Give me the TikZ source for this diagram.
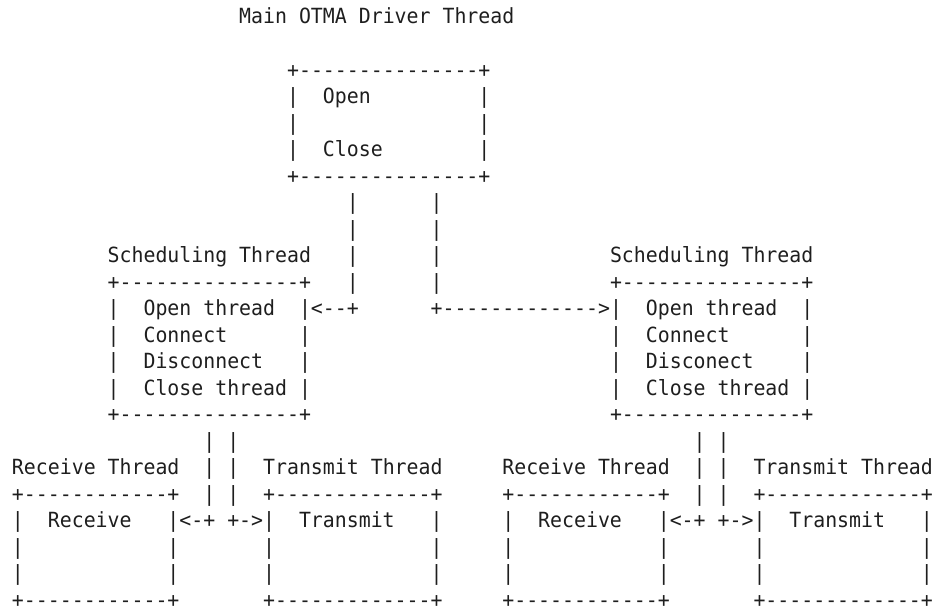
\documentclass[tikz,border=0pt]{standalone}
\usepackage{fontspec}
\setmonofont[FakeStretch=0.9505]{DejaVu Sans Mono}
\definecolor{ink}{HTML}{1E1E1E}
\tikzset{asc/.style={anchor=base west, inner sep=0pt, outer sep=0pt, text=ink,
  font=\ttfamily\fontsize{15.675pt}{19.9pt}\selectfont}}
% name, column, row, text
\newcommand{\asc}[4]{\node[asc] (#1) at ({12+#2*11.96},{24.0+#3*26.52}) {#4};}
\begin{document}
\begin{tikzpicture}[x=0.75pt,y=-0.75pt]
\useasboundingbox (0,0) rectangle (939,609);
% ---- main driver thread ----
\asc{mainTitle}{19}{0}{Main~OTMA~Driver~Thread}
\asc{mainTop}{23}{2}{+---------------+}
\asc{mainOpen}{23}{3}{|~~Open~~~~~~~~~|}
\asc{mainMid}{23}{4}{|~~~~~~~~~~~~~~~|}
\asc{mainClose}{23}{5}{|~~Close~~~~~~~~|}
\asc{mainBot}{23}{6}{+---------------+}
% ---- links from main box ----
\asc{linkLa}{28}{7}{|}
\asc{linkRa}{35}{7}{|}
\asc{linkLb}{28}{8}{|}
\asc{linkRb}{35}{8}{|}
\asc{linkLc}{28}{9}{|}
\asc{linkRc}{35}{9}{|}
\asc{linkLd}{28}{10}{|}
\asc{linkRd}{35}{10}{|}
% ---- left scheduling thread ----
\asc{schLTitle}{8}{9}{Scheduling~Thread}
\asc{schLTop}{8}{10}{+---------------+}
\asc{schLOpen}{8}{11}{|~~Open~thread~~|<--+}
\asc{schLConn}{8}{12}{|~~Connect~~~~~~|}
\asc{schLDisc}{8}{13}{|~~Disconnect~~~|}
\asc{schLClose}{8}{14}{|~~Close~thread~|}
\asc{schLBot}{8}{15}{+---------------+}
% ---- right scheduling thread ----
\asc{schRArrow}{35}{11}{+------------->}
\asc{schRTitle}{50}{9}{Scheduling~Thread}
\asc{schRTop}{50}{10}{+---------------+}
\asc{schROpen}{50}{11}{|~~Open~thread~~|}
\asc{schRConn}{50}{12}{|~~Connect~~~~~~|}
\asc{schRDisc}{50}{13}{|~~Disconect~~~~|}
\asc{schRClose}{50}{14}{|~~Close~thread~|}
\asc{schRBot}{50}{15}{+---------------+}
% ---- left receive / transmit ----
\asc{lLinks}{16}{16}{|~|}
\asc{lRecvTitle}{0}{17}{Receive~Thread}
\asc{lLinksb}{16}{17}{|~|}
\asc{lXmitTitle}{21}{17}{Transmit~Thread}
\asc{lRecvTop}{0}{18}{+------------+}
\asc{lLinksc}{16}{18}{|~|}
\asc{lXmitTop}{21}{18}{+-------------+}
\asc{lRecvA}{0}{19}{|~~Receive~~~|<-+}
\asc{lXmitA}{18}{19}{+->|~~Transmit~~~|}
\asc{lRecvB}{0}{20}{|~~~~~~~~~~~~|}
\asc{lXmitB}{21}{20}{|~~~~~~~~~~~~~|}
\asc{lRecvC}{0}{21}{|~~~~~~~~~~~~|}
\asc{lXmitC}{21}{21}{|~~~~~~~~~~~~~|}
\asc{lRecvBot}{0}{22}{+------------+}
\asc{lXmitBot}{21}{22}{+-------------+}
% ---- right receive / transmit ----
\asc{rLinks}{57}{16}{|~|}
\asc{rRecvTitle}{41}{17}{Receive~Thread}
\asc{rLinksb}{57}{17}{|~|}
\asc{rXmitTitle}{62}{17}{Transmit~Thread}
\asc{rRecvTop}{41}{18}{+------------+}
\asc{rLinksc}{57}{18}{|~|}
\asc{rXmitTop}{62}{18}{+-------------+}
\asc{rRecvA}{41}{19}{|~~Receive~~~|<-+}
\asc{rXmitA}{59}{19}{+->|~~Transmit~~~|}
\asc{rRecvB}{41}{20}{|~~~~~~~~~~~~|}
\asc{rXmitB}{62}{20}{|~~~~~~~~~~~~~|}
\asc{rRecvC}{41}{21}{|~~~~~~~~~~~~|}
\asc{rXmitC}{62}{21}{|~~~~~~~~~~~~~|}
\asc{rRecvBot}{41}{22}{+------------+}
\asc{rXmitBot}{62}{22}{+-------------+}
\end{tikzpicture}
\end{document}
